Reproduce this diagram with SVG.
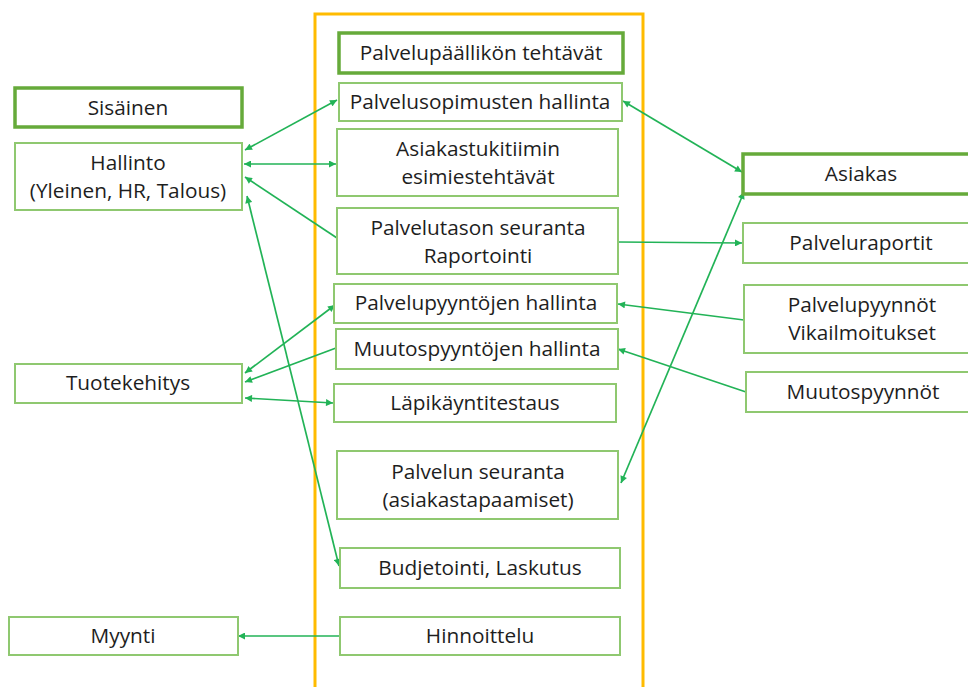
<svg xmlns="http://www.w3.org/2000/svg" width="968" height="687" viewBox="0 0 968 687">
  <style>
    .box { fill: #ffffff; stroke: #8fc870; stroke-width: 2; }
    .head { fill: #ffffff; stroke: #66aa3a; stroke-width: 3.5; }
    .frame { fill: none; stroke: #ffbb00; stroke-width: 3; }
    text { font-family: "Open Sans", "Liberation Sans", sans-serif; font-size: 20.8px; fill: #1e1e1e; text-anchor: middle; }
    .link { fill: none; stroke: #22b357; stroke-width: 1.7; }
  </style>
  <defs>
    <marker id="arrow" viewBox="0 0 10 10" refX="10" refY="5" markerWidth="8" markerHeight="7" markerUnits="userSpaceOnUse" orient="auto-start-reverse">
      <path d="M0,0 L10,5 L0,10 z" fill="#22b357"/>
    </marker>
  </defs>

  <rect width="968" height="687" fill="#ffffff"/>

  <!-- service manager's area -->
  <rect id="frame" class="frame" x="315" y="14" width="328" height="710"/>

  <g id="connectors">
    <path class="link" d="M337,100 L245,150" marker-start="url(#arrow)" marker-end="url(#arrow)"/>
    <path class="link" d="M244,164 L336,164" marker-start="url(#arrow)" marker-end="url(#arrow)"/>
    <path class="link" d="M337,238 L245,177" marker-end="url(#arrow)"/>
    <path class="link" d="M247,196 L339,566" marker-start="url(#arrow)" marker-end="url(#arrow)"/>
    <path class="link" d="M335,305 L245,373" marker-start="url(#arrow)" marker-end="url(#arrow)"/>
    <path class="link" d="M336,348 L245,382" marker-end="url(#arrow)"/>
    <path class="link" d="M245,398 L333,403" marker-start="url(#arrow)" marker-end="url(#arrow)"/>
    <path class="link" d="M623,101 L742,172" marker-start="url(#arrow)" marker-end="url(#arrow)"/>
    <path class="link" d="M618,242 L742,243" marker-end="url(#arrow)"/>
    <path class="link" d="M744,192 L621,483" marker-start="url(#arrow)" marker-end="url(#arrow)"/>
    <path class="link" d="M744,320 L618,304" marker-end="url(#arrow)"/>
    <path class="link" d="M746,392 L618,349" marker-end="url(#arrow)"/>
    <path class="link" d="M340,636 L238,636" marker-end="url(#arrow)"/>
  </g>

  <!-- left column -->
  <g id="sisainen">
    <rect class="head" x="15" y="88" width="227" height="39"/>
    <text x="128" y="115">Sisäinen</text>
  </g>
  <g id="hallinto">
    <rect class="box" x="15" y="143" width="227" height="67"/>
    <text x="128" y="170">Hallinto</text>
    <text x="128" y="198">(Yleinen, HR, Talous)</text>
  </g>
  <g id="tuotekehitys">
    <rect class="box" x="15" y="364" width="227" height="39"/>
    <text x="128" y="390">Tuotekehitys</text>
  </g>
  <g id="myynti">
    <rect class="box" x="9" y="617" width="229" height="38"/>
    <text x="123" y="643">Myynti</text>
  </g>

  <!-- middle column -->
  <g id="palvelupaallikko">
    <rect class="head" x="339" y="33" width="284" height="40"/>
    <text x="481" y="60">Palvelupäällikön tehtävät</text>
  </g>
  <g id="palvelusopimukset">
    <rect class="box" x="339" y="83" width="283" height="38"/>
    <text x="480" y="109">Palvelusopimusten hallinta</text>
  </g>
  <g id="asiakastuki">
    <rect class="box" x="337" y="129" width="281" height="67"/>
    <text x="478" y="156">Asiakastukitiimin</text>
    <text x="478" y="184">esimiestehtävät</text>
  </g>
  <g id="palvelutaso">
    <rect class="box" x="337" y="208" width="281" height="66"/>
    <text x="478" y="235">Palvelutason seuranta</text>
    <text x="478" y="263">Raportointi</text>
  </g>
  <g id="palvelupyynnot-hallinta">
    <rect class="box" x="334" y="284" width="283" height="39"/>
    <text x="476" y="310">Palvelupyyntöjen hallinta</text>
  </g>
  <g id="muutospyynnot-hallinta">
    <rect class="box" x="336" y="329" width="282" height="40"/>
    <text x="477" y="356">Muutospyyntöjen hallinta</text>
  </g>
  <g id="lapikaynti">
    <rect class="box" x="334" y="384" width="282" height="38"/>
    <text x="475" y="410">Läpikäyntitestaus</text>
  </g>
  <g id="palvelun-seuranta">
    <rect class="box" x="337" y="451" width="281" height="68"/>
    <text x="478" y="479">Palvelun seuranta</text>
    <text x="478" y="507">(asiakastapaamiset)</text>
  </g>
  <g id="budjetointi">
    <rect class="box" x="340" y="548" width="280" height="40"/>
    <text x="480" y="575">Budjetointi, Laskutus</text>
  </g>
  <g id="hinnoittelu">
    <rect class="box" x="340" y="617" width="280" height="38"/>
    <text x="480" y="643">Hinnoittelu</text>
  </g>

  <!-- right column -->
  <g id="asiakas">
    <rect class="head" x="743" y="154" width="237" height="40"/>
    <text x="861" y="181">Asiakas</text>
  </g>
  <g id="palveluraportit">
    <rect class="box" x="743" y="223" width="237" height="40"/>
    <text x="861" y="250">Palveluraportit</text>
  </g>
  <g id="palvelupyynnot">
    <rect class="box" x="744" y="285" width="236" height="68"/>
    <text x="862" y="312">Palvelupyynnöt</text>
    <text x="862" y="340">Vikailmoitukset</text>
  </g>
  <g id="muutospyynnot">
    <rect class="box" x="746" y="372" width="234" height="40"/>
    <text x="863" y="399">Muutospyynnöt</text>
  </g>
</svg>
